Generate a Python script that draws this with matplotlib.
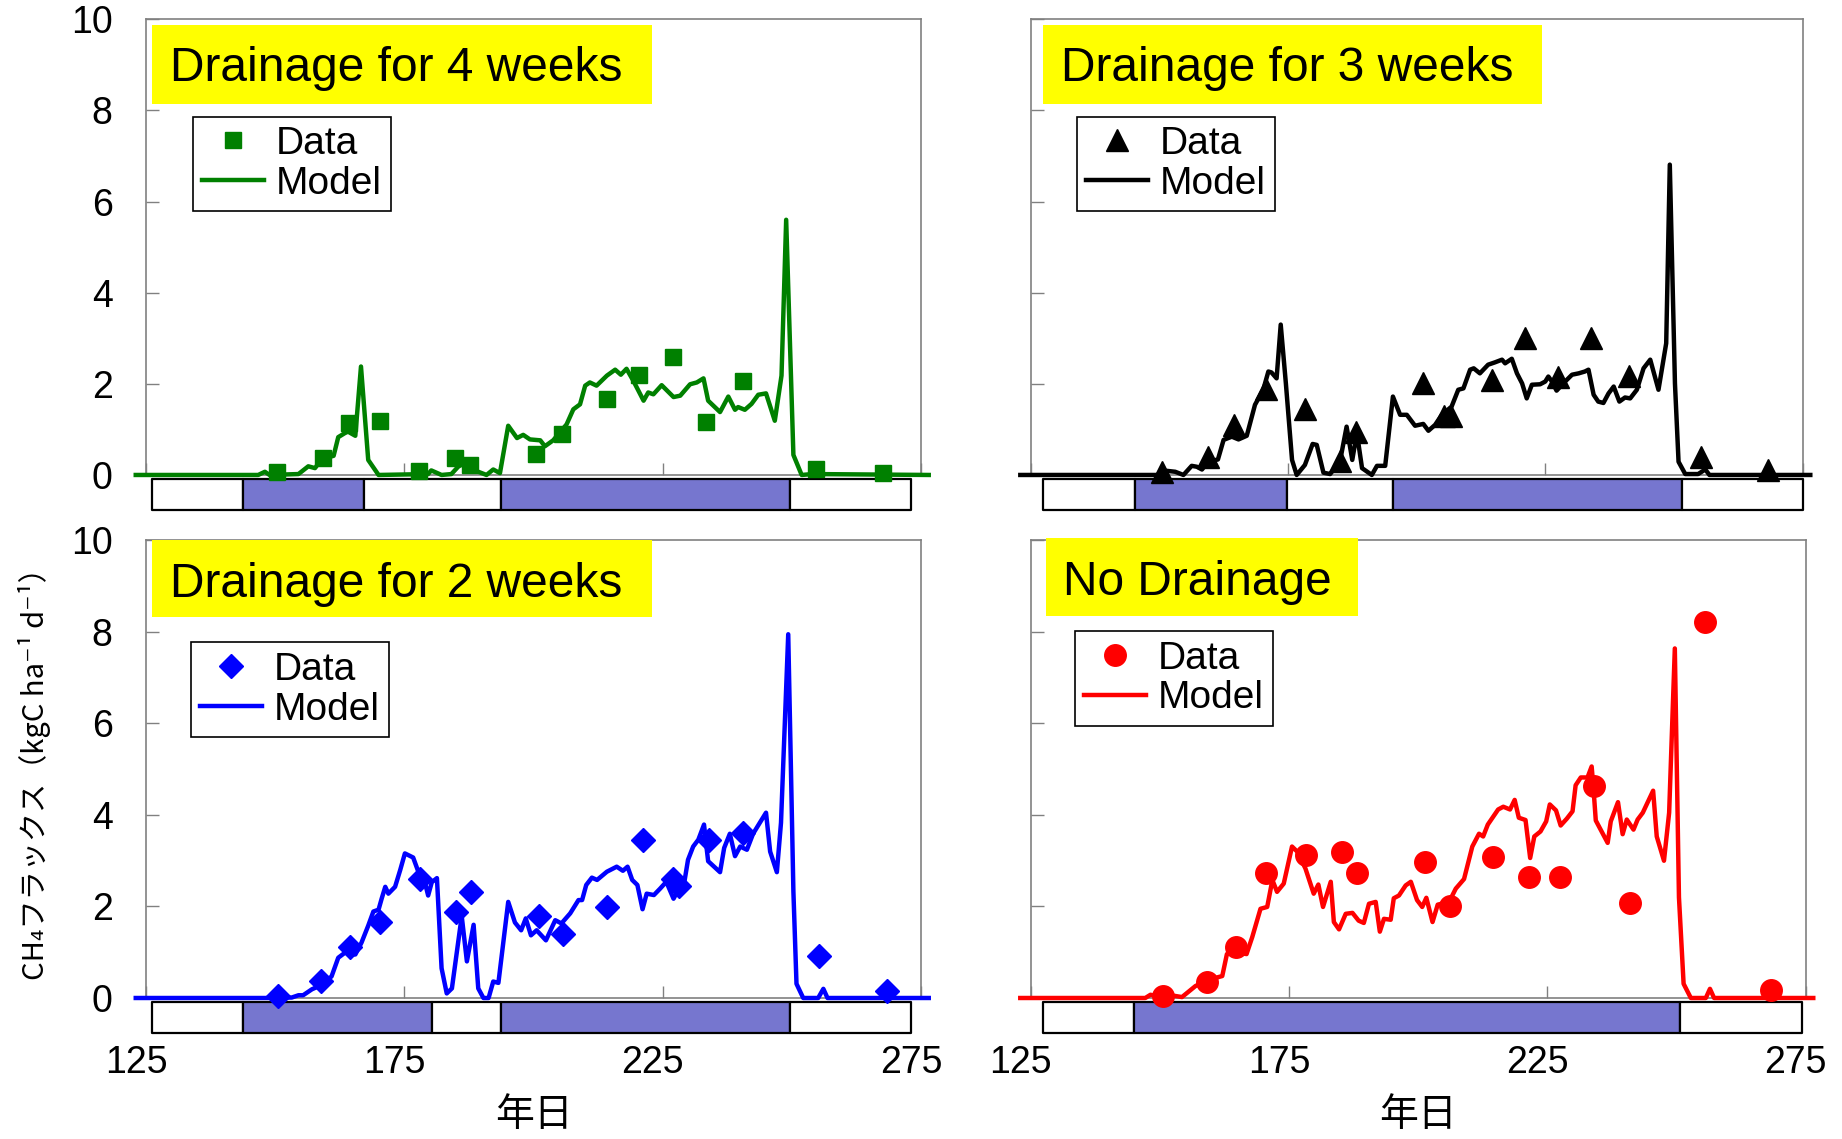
import matplotlib.pyplot as plt
from matplotlib.patches import Rectangle
from matplotlib.transforms import ScaledTranslation

plt.rcParams['font.family'] = ['Liberation Sans', 'DejaVu Sans']

# ---- Drainage for 4 weeks ----
w4_model_day = [123, 146.7, 148.0, 148.9, 154.5, 156.4, 157.7, 159.0, 161.3, 162.2,
                163.5, 164.1, 165.5, 166.6, 168.0, 170.0, 179.6, 180.2, 182.2, 184.1,
                185.4, 186.4, 189.3, 190.9, 192.2, 193.5, 195.1, 196.8, 198.0, 199.3,
                201.3, 202.2, 203.8, 206.4, 207.7, 209.0, 210.0, 210.9, 212.2, 214.2,
                215.8, 216.9, 218.0, 219.3, 221.3, 222.2, 223.2, 224.8, 227.1, 228.4,
                230.3, 231.6, 232.9, 233.8, 236.1, 237.7, 239.0, 239.6, 240.9, 242.2,
                243.5, 245.0, 246.7, 248.0, 248.9, 250.3, 251.9, 254.0, 276.5]
w4_model_flux = [0, 0, 0.07, 0, 0.02, 0.19, 0.15, 0.35, 0.42, 0.83,
                 0.92, 0.95, 0.86, 2.38, 0.33, 0, 0.02, 0.10, 0, 0.02,
                 0.18, 0.25, 0.07, 0, 0.12, 0.04, 1.08, 0.81, 0.88, 0.78,
                 0.76, 0.63, 0.76, 1.11, 1.44, 1.55, 1.96, 2.03, 1.96, 2.18,
                 2.31, 2.20, 2.33, 2.07, 1.63, 1.81, 1.77, 1.97, 1.71, 1.74,
                 1.99, 2.03, 2.12, 1.63, 1.38, 1.72, 1.43, 1.49, 1.43, 1.56,
                 1.76, 1.79, 1.19, 2.18, 5.60, 0.44, 0, 0.02, 0]
w4_obs_day = [150.3, 159.2, 164.2, 170.3, 177.9, 184.8, 187.7, 200.5,
              205.6, 214.2, 220.5, 226.9, 233.3, 240.5, 254.6, 267.7]
w4_obs_flux = [0.07, 0.37, 1.15, 1.19, 0.09, 0.37, 0.22, 0.46,
               0.90, 1.67, 2.20, 2.58, 1.16, 2.07, 0.13, 0.05]
w4_bar_edges = [126.2, 143.8, 167.2, 193.7, 249.6, 273.1]

# ---- Drainage for 3 weeks ----
w3_model_day = [123, 149.8, 151.5, 153.1, 154.7, 156.3, 157.3, 158.3, 159.5, 161.4,
                162.5, 164.1, 165.4, 167.0, 168.6, 170.2, 171.2, 171.8, 172.8, 173.6,
                174.6, 175.8, 176.7, 178.3, 179.8, 180.6, 181.9, 183.2, 185.1, 186.4,
                187.5, 188.4, 189.4, 191.3, 192.3, 193.9, 195.4, 196.8, 198.1, 199.7,
                201.3, 202.3, 203.6, 204.9, 206.8, 208.1, 209.1, 210.4, 211.1, 212.3,
                213.9, 215.2, 216.6, 217.2, 218.5, 219.5, 220.5, 221.4, 222.4, 224.0,
                225.0, 225.6, 226.3, 227.2, 228.5, 230.2, 231.5, 232.7, 233.4, 234.4,
                235.3, 236.3, 237.3, 238.3, 239.4, 240.5, 241.5, 242.8, 244.1, 245.4,
                247.0, 248.5, 249.2, 250.2, 250.9, 252.2, 254.7, 256.1, 256.9, 276.5]
w3_model_flux = [0, 0, 0.09, 0.07, 0, 0.20, 0.18, 0.12, 0.29, 0.34,
                 0.77, 0.84, 0.78, 0.86, 1.54, 1.87, 2.27, 2.25, 2.12, 3.30,
                 2.01, 0.33, 0, 0.22, 0.68, 0.66, 0.05, 0.02, 0.29, 1.06,
                 0.33, 0.92, 0.15, 0, 0.20, 0.20, 1.72, 1.32, 1.32, 1.08,
                 1.12, 0.97, 1.10, 1.32, 1.50, 1.87, 1.90, 2.31, 2.34, 2.23,
                 2.42, 2.47, 2.53, 2.45, 2.55, 2.23, 2.01, 1.68, 1.98, 1.99,
                 2.05, 2.16, 2.05, 1.85, 2.01, 2.20, 2.23, 2.27, 2.31, 1.76,
                 1.61, 1.58, 1.79, 1.94, 1.61, 1.70, 1.68, 1.87, 2.34, 2.53,
                 1.87, 2.89, 6.81, 2.01, 0.29, 0.02, 0.02, 0.12, 0, 0]
w3_obs_day = [150.5, 159.5, 164.6, 170.7, 178.3, 185.1, 188.2, 201.3, 205.4,
              206.6, 214.6, 221.1, 227.4, 233.9, 241.2, 255.3, 268.3]
w3_obs_flux = [0.07, 0.40, 1.10, 1.88, 1.44, 0.31, 0.95, 2.01, 1.30,
               1.30, 2.09, 3.00, 2.16, 3.00, 2.17, 0.40, 0.10]
w3_bar_edges = [127.4, 145.2, 174.8, 195.5, 251.6, 275.0]

# ---- Drainage for 2 weeks ----
w2_model_day = [123, 149.0, 153.2, 154.5, 155.4, 157.1, 158.3, 159.6, 160.9, 162.2,
                163.5, 165.5, 166.7, 168.0, 169.0, 170.0, 170.6, 171.3, 171.9, 173.2,
                174.2, 175.1, 176.7, 177.7, 178.7, 179.6, 180.3, 181.3, 182.2, 183.2,
                184.2, 186.1, 187.1, 188.4, 189.3, 190.3, 191.3, 192.2, 193.2, 195.1,
                196.4, 197.6, 198.5, 199.5, 200.6, 202.4, 204.2, 205.4, 207.1, 208.7,
                209.4, 210.2, 211.3, 212.3, 214.2, 216.1, 217.3, 218.2, 219.1, 220.1,
                221.1, 221.9, 223.3, 224.5, 225.7, 227.1, 228.0, 229.1, 229.9, 230.9,
                231.9, 233.0, 233.5, 233.8, 236.1, 236.9, 238.0, 239.0, 240.0, 241.3,
                242.5, 243.8, 245.0, 245.8, 247.1, 247.9, 249.3, 250.3, 250.9, 252.2,
                255.1, 256.1, 256.9, 276.5]
w2_model_flux = [0, 0, 0.01, 0.06, 0.06, 0.19, 0.25, 0.36, 0.47, 0.88,
                 0.99, 0.95, 1.21, 1.58, 1.89, 1.93, 2.17, 2.43, 2.28, 2.43,
                 2.80, 3.16, 3.07, 2.76, 2.65, 2.24, 2.53, 2.62, 0.65, 0.10,
                 0.21, 1.79, 0.80, 1.60, 0.21, 0, 0, 0.36, 0.33, 2.10,
                 1.65, 1.48, 1.74, 1.37, 1.48, 1.26, 1.70, 1.63, 1.85, 2.14,
                 2.14, 2.47, 2.63, 2.58, 2.76, 2.87, 2.78, 2.87, 2.58, 2.47,
                 1.94, 2.28, 2.25, 2.39, 2.54, 2.17, 2.36, 2.47, 3.02, 3.31,
                 3.46, 3.79, 3.28, 2.99, 2.75, 3.28, 3.59, 3.10, 3.31, 3.24,
                 3.59, 3.83, 4.05, 3.20, 2.75, 3.83, 7.95, 2.33, 0.31, 0,
                 0, 0.20, 0, 0]
w2_obs_day = [150.5, 158.9, 164.5, 170.3, 178.0, 184.9, 187.9, 201.1, 205.8,
              214.3, 221.1, 227.0, 228.2, 234.0, 240.6, 255.2, 268.4]
w2_obs_flux = [0.05, 0.38, 1.12, 1.65, 2.59, 1.88, 2.32, 1.80, 1.39,
               1.98, 3.45, 2.60, 2.45, 3.45, 3.60, 0.91, 0.15]
w2_bar_edges = [126.2, 143.8, 180.4, 193.7, 249.6, 273.1]

# ---- No drainage ----
nd_model_day = [123, 147.2, 148.2, 150.5, 152.7, 154.3, 156.9, 159.2, 162.1, 163.0,
                164.6, 166.8, 167.9, 169.5, 170.8, 171.8, 172.7, 174.0, 175.6, 176.6,
                178.2, 179.8, 180.7, 181.6, 183.1, 183.7, 184.7, 186.0, 187.3, 188.5,
                189.5, 190.5, 191.8, 192.6, 193.4, 194.7, 195.3, 196.3, 197.6, 198.6,
                199.8, 200.8, 201.6, 202.8, 203.8, 206.0, 207.3, 208.9, 210.5, 211.8,
                212.6, 213.5, 215.5, 216.5, 217.8, 218.7, 219.5, 220.8, 221.7, 222.5,
                223.7, 224.8, 225.5, 226.7, 227.6, 228.8, 229.9, 230.5, 231.5, 232.8,
                233.6, 233.9, 234.4, 236.7, 237.3, 238.7, 239.6, 240.4, 241.7, 242.5,
                243.5, 245.5, 246.2, 247.6, 248.6, 249.7, 250.5, 251.4, 252.8, 255.7,
                256.5, 257.3, 276.5]
nd_model_flux = [0, 0, 0.07, 0.02, 0.05, 0.02, 0.26, 0.39, 0.48, 0.96,
                 1.00, 0.96, 1.33, 1.95, 1.99, 2.58, 2.32, 2.50, 3.31, 3.20,
                 2.83, 2.28, 2.48, 1.99, 2.54, 1.66, 1.50, 1.84, 1.86, 1.69,
                 1.64, 2.06, 2.10, 1.45, 1.73, 1.71, 2.18, 2.24, 2.46, 2.54,
                 2.14, 1.99, 2.19, 1.66, 2.04, 2.10, 2.39, 2.60, 3.31, 3.59,
                 3.53, 3.79, 4.12, 4.18, 4.12, 4.33, 3.94, 3.89, 3.06, 3.53,
                 3.64, 3.86, 4.23, 4.10, 3.77, 3.92, 4.08, 4.65, 4.82, 4.82,
                 5.06, 4.67, 3.88, 3.39, 3.86, 4.28, 3.58, 3.90, 3.68, 3.90,
                 4.05, 4.53, 3.53, 3.00, 4.05, 7.64, 2.20, 0.31, 0, 0,
                 0.20, 0, 0]
nd_obs_day = [150.7, 159.2, 164.8, 170.6, 178.3, 185.2, 188.2, 201.4,
              206.1, 214.6, 221.5, 227.4, 234.1, 241.1, 255.5, 268.4]
nd_obs_flux = [0.05, 0.36, 1.12, 2.74, 3.13, 3.18, 2.74, 2.97,
               2.02, 3.08, 2.64, 2.64, 4.63, 2.07, 8.22, 0.17]
nd_bar_edges = [127.4, 145.1, 250.7, 274.4]

fig = plt.figure(figsize=(18.42, 11.39), dpi=100)

panels = [
    # title, color, marker, size, model x/y, data x/y, bar edges,
    # axes rect, title box, title x, title baseline, legend anchor
    ('Drainage for 4 weeks', '#008000', 's', 12, w4_model_day, w4_model_flux,
     w4_obs_day, w4_obs_flux, w4_bar_edges,
     [0.0793, 0.5830, 0.4207, 0.4001], (0.0077, 0.814, 0.6453, 0.1735), 0.031, 0.865, (0.060, 0.7865)),
    ('Drainage for 3 weeks', 'black', '^', 16, w3_model_day, w3_model_flux,
     w3_obs_day, w3_obs_flux, w3_bar_edges,
     [0.5595, 0.5830, 0.4191, 0.4001], (0.0162, 0.814, 0.6468, 0.1735), 0.040, 0.865, (0.0597, 0.7865)),
    ('Drainage for 2 weeks', '#0000FF', 'D', 12, w2_model_day, w2_model_flux,
     w2_obs_day, w2_obs_flux, w2_bar_edges,
     [0.0793, 0.1238, 0.4207, 0.4017], (0.0077, 0.832, 0.6453, 0.168), 0.031, 0.8765, (0.0578, 0.7773)),
    ('No Drainage', '#FF0000', 'o', 15.5, nd_model_day, nd_model_flux,
     nd_obs_day, nd_obs_flux, nd_bar_edges,
     [0.5595, 0.1238, 0.4207, 0.4017], (0.020, 0.835, 0.402, 0.171), 0.042, 0.881, (0.0572, 0.8015)),
]

for i, (title, color, marker, ms, mx, my, ox, oy, edges, rect, tbox, tx, ty, anchor) in enumerate(panels):
    ax = fig.add_axes(rect)
    ax.set_xlim(125, 275)
    ax.set_ylim(0, 10)

    # flooded / drained schedule strip under the axis
    spans = [(edges[k], edges[k + 1] - edges[k]) for k in range(len(edges) - 1)]
    fills = ['white' if k % 2 == 0 else '#7676CF' for k in range(len(spans))]
    ax.broken_barh(spans, (-0.77, 0.69), facecolors=fills, edgecolor='black',
                   linewidth=1.6, clip_on=False, zorder=3)

    model, = ax.plot(mx, my, color=color, lw=3.2, clip_on=False, zorder=4, label='Model')
    data, = ax.plot(ox, oy, ls='none', marker=marker, ms=ms, color=color,
                    clip_on=False, zorder=5, label='Data')

    ax.add_patch(Rectangle(tbox[:2], tbox[2], tbox[3], transform=ax.transAxes,
                           facecolor='#FFFF00', edgecolor='none', clip_on=False, zorder=6))
    ax.text(tx, ty, title, transform=ax.transAxes, fontsize=34.5, va='baseline', zorder=7)

    leg = ax.legend(handles=[data, model], loc='upper left', bbox_to_anchor=anchor,
                    borderaxespad=0, fontsize=28, frameon=True, fancybox=False,
                    edgecolor='black', framealpha=1, handlelength=1.6,
                    handletextpad=0.3, labelspacing=0.1, borderpad=0.24)
    leg.get_frame().set_linewidth(1.2)
    leg.set_zorder(8)

    for side in ['top', 'left', 'right', 'bottom']:
        ax.spines[side].set_color('#808080')
        ax.spines[side].set_linewidth(1.2)

    ax.set_xticks([125, 175, 225, 275])
    ax.set_yticks([0, 2, 4, 6, 8, 10])
    ax.tick_params(axis='both', direction='in', length=9, width=1, color='#808080', labelsize=27)
    ax.tick_params(axis='y', pad=24)
    ax.tick_params(axis='x', pad=34)
    if i % 2 == 1:
        ax.tick_params(axis='y', labelleft=False)
    if i < 2:
        ax.tick_params(axis='x', labelbottom=False)
    else:
        # day labels sit a little left of their ticks
        shift = ScaledTranslation(-0.10, 0, fig.dpi_scale_trans)
        for lab in ax.get_xticklabels():
            lab.set_transform(lab.get_transform() + shift)
        fig.text(rect[0] + rect[2] / 2, 0.021, '年日', ha='center', va='center',
                 fontsize=28, family=['Noto Sans CJK JP', 'DejaVu Sans'])

fig.text(0.0185, 0.327, 'CH₄フラックス（kgC ha⁻¹ d⁻¹）', rotation=90, ha='center', va='center',
         fontsize=21, family=['Noto Sans CJK JP', 'DejaVu Sans'])

plt.savefig('out.png', dpi=100)
